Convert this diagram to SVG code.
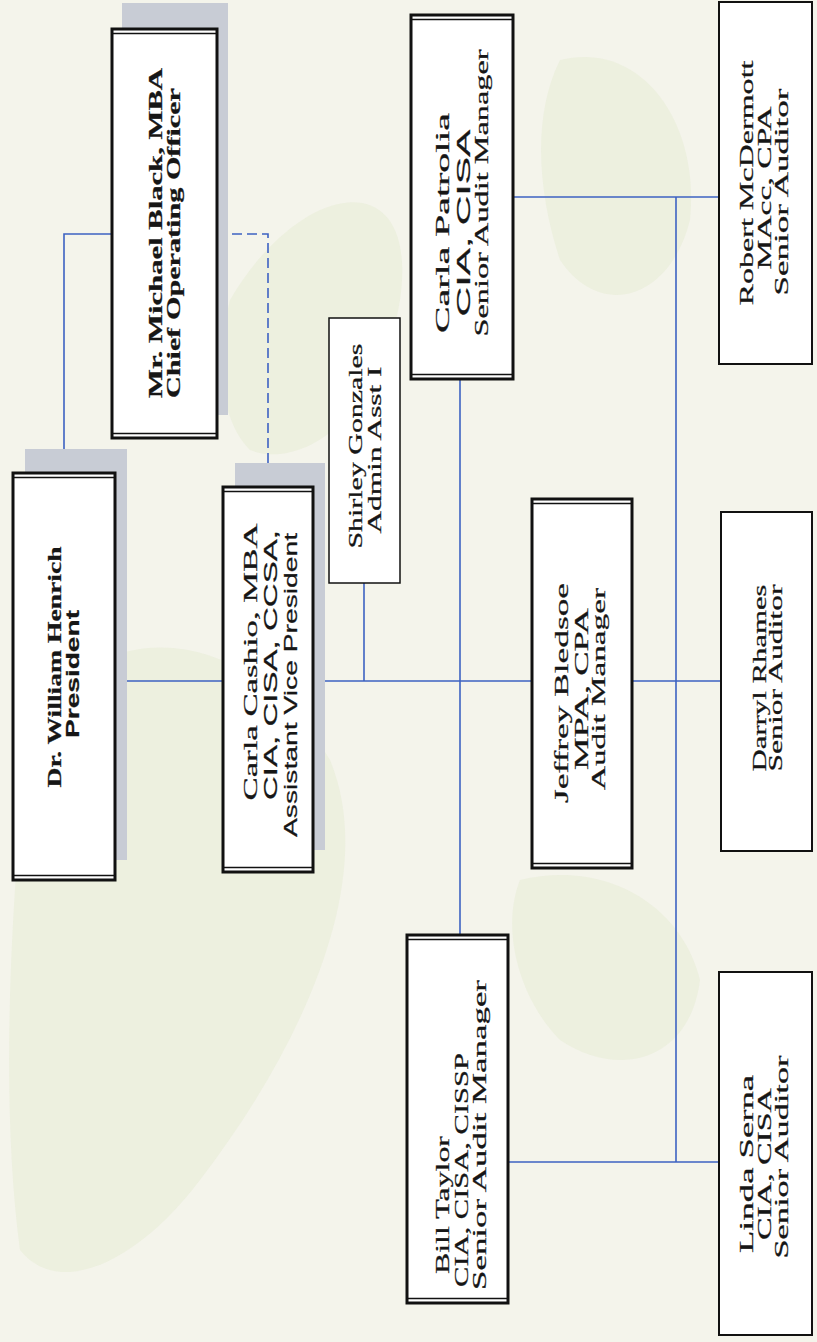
<svg xmlns="http://www.w3.org/2000/svg" width="817" height="1342" viewBox="0 0 817 1342">
<style>
.bg{fill:#f4f4eb}
.leaf{fill:#dfe7c9;opacity:0.35}
.sh{fill:#c8ccd5}
.box{fill:#ffffff;stroke:#111;stroke-width:3}
.box1{fill:#ffffff;stroke:#111;stroke-width:2}
.box0{fill:#ffffff;stroke:#111;stroke-width:1.5}
.in{stroke:#111;stroke-width:1.3;fill:none}
.c{stroke:#3d62c2;stroke-width:1.6;fill:none}
.d{stroke:#3d62c2;stroke-width:1.6;fill:none;stroke-dasharray:10 5}
text{font-size:18.5px;fill:#161616;stroke:#161616;stroke-width:0.25;text-anchor:middle}
.s{font-family:"Liberation Serif","Times New Roman",serif}
.a{font-family:"Liberation Sans",Arial,sans-serif}
.b{font-weight:bold;font-size:18px}
</style>
<rect class="bg" x="0" y="0" width="817" height="1342"/>
<g id="background">
<path class="leaf" d="M30 720 C 120 600, 260 640, 330 760 C 380 880, 300 1050, 200 1180 C 140 1260, 60 1300, 20 1250 C 0 1100, 10 900, 30 720 Z"/>
<path class="leaf" d="M230 300 C 300 180, 420 160, 400 300 C 380 420, 300 470, 250 450 C 220 420, 215 360, 230 300 Z"/>
<path class="leaf" d="M520 880 C 600 860, 680 900, 700 980 C 690 1060, 620 1080, 560 1040 C 520 1000, 500 930, 520 880 Z"/>
<path class="leaf" d="M560 60 C 640 40, 700 120, 690 220 C 670 300, 600 320, 560 260 C 540 200, 530 120, 560 60 Z"/>
</g>
<g id="connectors">
<polyline class="c" points="64,473 64,234 112,234"/>
<polyline class="d" points="217,234 268,234 268,487"/>
<line class="c" x1="115" y1="681" x2="223" y2="681"/>
<line class="c" x1="313" y1="681" x2="532" y2="681"/>
<line class="c" x1="632" y1="681" x2="721" y2="681"/>
<line class="c" x1="364" y1="583" x2="364" y2="681"/>
<line class="c" x1="460" y1="379" x2="460" y2="935"/>
<line class="c" x1="513" y1="197" x2="719" y2="197"/>
<line class="c" x1="508" y1="1162" x2="719" y2="1162"/>
<line class="c" x1="676" y1="197" x2="676" y2="1162"/>
</g>
<g id="president">
<rect class="sh" x="25" y="449" width="102" height="411"/>
<rect class="box" x="13" y="473" width="102" height="407"/>
<line class="in" x1="13" y1="477.5" x2="115" y2="477.5"/>
<line class="in" x1="13" y1="875.5" x2="115" y2="875.5"/>
<text class="s b" transform="translate(61,667) rotate(-90)" textLength="241" lengthAdjust="spacingAndGlyphs">Dr. William Henrich</text>
<text class="a b" transform="translate(79,674) rotate(-90)" textLength="128" lengthAdjust="spacingAndGlyphs">President</text>
</g>
<g id="coo">
<rect class="sh" x="122" y="3" width="106" height="412"/>
<rect class="box" x="112" y="29" width="105" height="409"/>
<line class="in" x1="112" y1="33.5" x2="217" y2="33.5"/>
<line class="in" x1="112" y1="433.5" x2="217" y2="433.5"/>
<text class="s b" transform="translate(162,233) rotate(-90)" textLength="330" lengthAdjust="spacingAndGlyphs">Mr. Michael Black, MBA</text>
<text class="s b" transform="translate(180,243) rotate(-90)" textLength="310" lengthAdjust="spacingAndGlyphs">Chief Operating Officer</text>
</g>
<g id="cashio">
<rect class="sh" x="235" y="463" width="90" height="387"/>
<rect class="box" x="223" y="487" width="90" height="385"/>
<line class="in" x1="223" y1="491.5" x2="313" y2="491.5"/>
<line class="in" x1="223" y1="867.5" x2="313" y2="867.5"/>
<text class="s" transform="translate(257,662) rotate(-90)" textLength="277" lengthAdjust="spacingAndGlyphs">Carla Cashio, MBA</text>
<text class="a" transform="translate(277,665) rotate(-90)" textLength="270" lengthAdjust="spacingAndGlyphs">CIA, CISA, CCSA,</text>
<text class="a" transform="translate(297,685) rotate(-90)" textLength="304" lengthAdjust="spacingAndGlyphs">Assistant Vice President</text>
</g>
<g id="shirley">
<rect class="box0" x="329" y="318" width="71" height="265"/>
<text class="s" transform="translate(362,446) rotate(-90)" textLength="205" lengthAdjust="spacingAndGlyphs">Shirley Gonzales</text>
<text class="s" transform="translate(381,450) rotate(-90)" textLength="167" lengthAdjust="spacingAndGlyphs">Admin Asst I</text>
</g>
<g id="patrolia">
<rect class="box" x="411" y="15" width="102" height="364"/>
<line class="in" x1="411" y1="19.5" x2="513" y2="19.5"/>
<line class="in" x1="411" y1="374.5" x2="513" y2="374.5"/>
<text class="s" transform="translate(449,223) rotate(-90)" textLength="220" lengthAdjust="spacingAndGlyphs">Carla Patrolia</text>
<text class="a" transform="translate(470,223) rotate(-90)" textLength="187" lengthAdjust="spacingAndGlyphs">CIA, CISA</text>
<text class="s" transform="translate(488,193) rotate(-90)" textLength="287" lengthAdjust="spacingAndGlyphs">Senior Audit Manager</text>
</g>
<g id="taylor">
<rect class="box" x="407" y="935" width="101" height="368"/>
<line class="in" x1="407" y1="939.5" x2="508" y2="939.5"/>
<line class="in" x1="407" y1="1298.5" x2="508" y2="1298.5"/>
<text class="s" transform="translate(449,1205) rotate(-90)" textLength="138" lengthAdjust="spacingAndGlyphs">Bill Taylor</text>
<text class="s" transform="translate(468,1170) rotate(-90)" textLength="234" lengthAdjust="spacingAndGlyphs">CIA, CISA, CISSP</text>
<text class="s" transform="translate(486,1135) rotate(-90)" textLength="310" lengthAdjust="spacingAndGlyphs">Senior Audit Manager</text>
</g>
<g id="bledsoe">
<rect class="box" x="532" y="499" width="100" height="369"/>
<line class="in" x1="532" y1="503.5" x2="632" y2="503.5"/>
<line class="in" x1="532" y1="863.5" x2="632" y2="863.5"/>
<text class="s" transform="translate(568,693) rotate(-90)" textLength="220" lengthAdjust="spacingAndGlyphs">Jeffrey Bledsoe</text>
<text class="s" transform="translate(588,689) rotate(-90)" textLength="162" lengthAdjust="spacingAndGlyphs">MPA, CPA</text>
<text class="s" transform="translate(605,689) rotate(-90)" textLength="202" lengthAdjust="spacingAndGlyphs">Audit Manager</text>
</g>
<g id="mcdermott">
<rect class="box1" x="719" y="2" width="93" height="362"/>
<text class="s" transform="translate(753,183) rotate(-90)" textLength="245" lengthAdjust="spacingAndGlyphs">Robert McDermott</text>
<text class="s" transform="translate(771,188) rotate(-90)" textLength="163" lengthAdjust="spacingAndGlyphs">MAcc, CPA</text>
<text class="s" transform="translate(788,192) rotate(-90)" textLength="207" lengthAdjust="spacingAndGlyphs">Senior Auditor</text>
</g>
<g id="rhames">
<rect class="box1" x="721" y="512" width="91" height="339"/>
<text class="s" transform="translate(766,678) rotate(-90)" textLength="187" lengthAdjust="spacingAndGlyphs">Darryl Rhames</text>
<text class="s" transform="translate(782,678) rotate(-90)" textLength="187" lengthAdjust="spacingAndGlyphs">Senior Auditor</text>
</g>
<g id="serna">
<rect class="box1" x="719" y="972" width="93" height="363"/>
<text class="s" transform="translate(753,1164) rotate(-90)" textLength="178" lengthAdjust="spacingAndGlyphs">Linda Serna</text>
<text class="s" transform="translate(771,1164) rotate(-90)" textLength="152" lengthAdjust="spacingAndGlyphs">CIA, CISA</text>
<text class="s" transform="translate(788,1157) rotate(-90)" textLength="203" lengthAdjust="spacingAndGlyphs">Senior Auditor</text>
</g>
</svg>
